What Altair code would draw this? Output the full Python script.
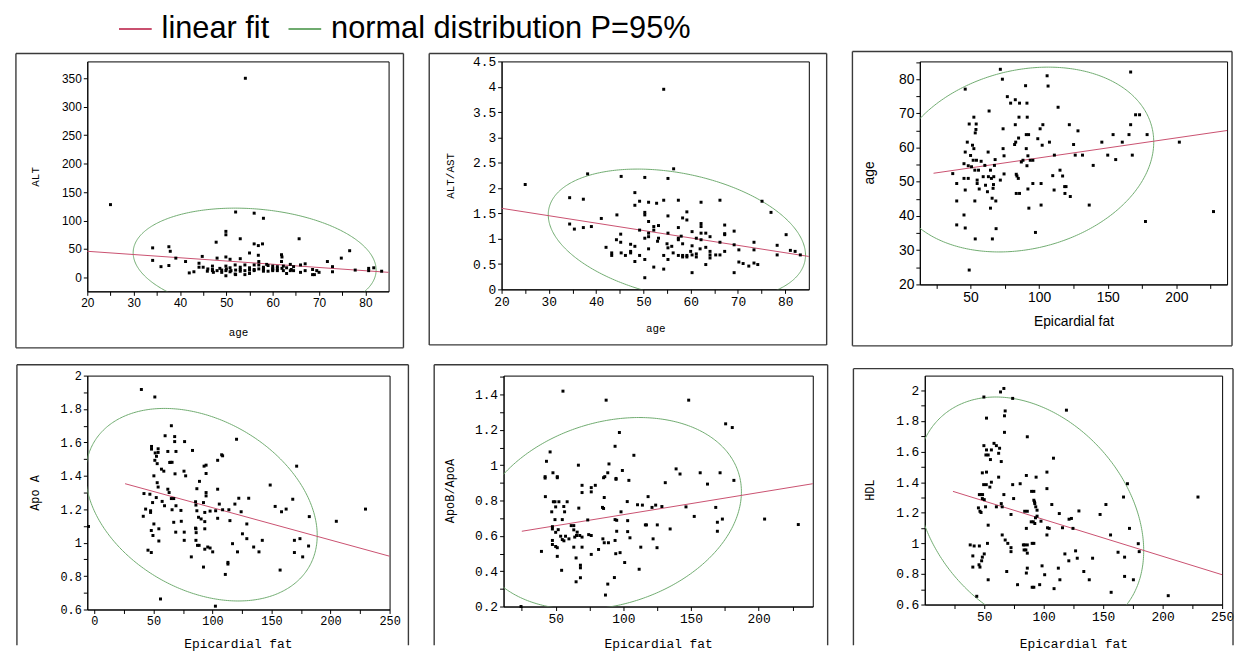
import json
import numpy as np
import pandas as pd
import altair as alt

RED = "#c9506f"
GREEN = "#6fab6f"
FIT = "linear fit"
ELL = "normal distribution P=95%"
MONO = "Liberation Mono"
SANS = "Liberation Sans"

# ---------------- data ----------------
# panel 1: age vs ALT
p1_pts = [(25, 128), (54.1, 350), (52, 115), (56, 113), (58, 104), (49.9, 81), (49.9, 75), (47.8, 62),
          (53, 68), (56, 59), (56.9, 56), (57.8, 59), (65.7, 68), (76.6, 47), (74.8, 34),
          (34.1, 52), (34.1, 30), (35.9, 19), (37.6, 54), (37.6, 21), (37.9, 46), (39.1, 34), (41.2, 28),
          (42, 8), (43, 10), (44.1, 25), (44.1, 18), (45, 18), (44.8, 37), (45.9, 11), (47, 20), (47, 12),
          (47.2, 9), (48, 34), (48, 12), (48.6, 16), (49, 9), (49.9, 36), (49.9, 20), (49.9, 12), (49.9, 3),
          (50.8, 32), (50.8, 17), (50.8, 10), (51.9, 22), (51.9, 6), (53, 33), (53, 14), (54, 22), (55, 13),
          (55, 7), (55, 43), (56, 22), (56, 12), (56.9, 39), (57, 28), (57, 22), (58, 16), (58, 13),
          (58.7, 23), (59, 11), (60, 20), (60, 16), (60, 12), (61, 19), (61, 12), (61.9, 40), (62, 36),
          (61.9, 28), (62.3, 20), (62.3, 12), (63.8, 23), (63.8, 12), (64.5, 19), (64.5, 12), (66, 22),
          (66, 9), (67, 24), (67, 12), (68.6, 14), (68.6, 5), (69.5, 12), (70, 9), (71.8, 28), (72.9, 19),
          (72.9, 10), (77.8, 13), (80.7, 12), (80.7, 16), (83.5, 11), (52, 5), (54, 5), (63, 7), (69, 5),
          (81.8, 17), (47, 14), (50, 15), (52, 13), (53, 18), (55, 17), (57, 15), (58, 11), (60, 14),
          (62, 16), (63, 17), (59, 21), (54, 12), (46, 15), (49, 13), (51, 12), (53, 11), (56, 14),
          (58, 18), (61, 15), (64, 14)]
p1_fit = [(20, 46), (85, 9)]

# panel 2: age vs ALT/AST
p2_pts = [(25.0, 2.07), (54.3, 3.95), (56.4, 2.38), (38.2, 2.28), (45.3, 2.23), (50.3, 2.21), (55.2, 2.19),
          (34.4, 1.81), (37.3, 1.78), (48.2, 1.91), (49.2, 1.74), (48.2, 1.66), (51.1, 1.72), (52.8, 1.70),
          (54.3, 1.76), (57.4, 1.76), (62.2, 1.72), (66.2, 1.76), (75.1, 1.74), (77.0, 1.52), (34.4, 1.29),
          (35.4, 1.19), (37.3, 1.22), (39.0, 1.24), (41.1, 1.40), (44.4, 1.47), (45.2, 1.09), (44.3, 0.98),
          (45.2, 0.93), (42.1, 0.83), (43.3, 0.72), (43.3, 0.67), (45.3, 0.72), (46.2, 0.67), (47.3, 0.89),
          (47.3, 0.75), (47.3, 0.72), (48.2, 0.85), (48.2, 0.55), (49.2, 0.67), (49.2, 1.17), (50.3, 1.52),
          (50.3, 1.47), (50.3, 0.59), (50.3, 0.23), (50.3, 1.01), (51.1, 1.34), (51.1, 1.11), (51.1, 1.04),
          (51.1, 0.80), (52.2, 1.24), (52.2, 1.17), (52.2, 0.44), (53.2, 1.26), (53.2, 1.01), (54.3, 0.67),
          (54.3, 0.40), (55.2, 1.45), (55.2, 1.11), (55.2, 0.82), (55.2, 0.59), (56.3, 0.72), (57.4, 1.22),
          (57.4, 1.01), (57.4, 0.98), (57.4, 0.67), (58.3, 1.41), (58.3, 0.90), (58.3, 0.67), (58.3, 0.64),
          (59.2, 1.53), (59.2, 1.37), (59.2, 0.67), (59.2, 0.64), (60.3, 1.14), (60.3, 0.86), (60.3, 0.68),
          (60.3, 0.33), (61.2, 1.01), (61.2, 0.64), (61.2, 0.70), (62.2, 1.30), (62.2, 1.24), (62.2, 1.11),
          (62.2, 0.98), (63.2, 1.11), (63.2, 0.83), (63.2, 0.49), (64.1, 1.04), (64.1, 0.75), (64.1, 0.68),
          (64.1, 0.62), (65.3, 0.68), (66.2, 0.93), (66.2, 0.68), (67.2, 1.27), (67.2, 1.10), (67.2, 1.08),
          (67.2, 0.75), (69.2, 1.15), (69.2, 0.88), (69.2, 0.33), (70.2, 0.78), (70.2, 0.54), (71.1, 0.51),
          (72.3, 0.46), (73.4, 0.93), (73.4, 0.78), (73.4, 0.52), (74.2, 0.49), (78.3, 0.87), (78.3, 0.68),
          (80.2, 1.08), (81.1, 0.77), (82.1, 0.75), (83.2, 0.68), (53, 0.95), (56, 0.85), (58, 1.05),
          (60, 0.75), (55, 0.9), (62, 0.8)]
p2_fit = [(20, 1.60), (85, 0.65)]

# panel 3: Epicardial fat vs age
p3_pts = [(71.7, 82.9), (166.7, 82.1), (105.8, 81.0), (73.2, 80.0), (46.1, 77.1), (90.1, 78.1), (106.5, 78.0),
          (76.8, 74.9), (79.2, 73.0), (82.6, 74.0), (85.7, 73.0), (91.1, 73.0), (113.8, 71.8), (63.5, 70.7),
          (170.3, 69.6), (173.2, 69.6), (52.4, 68.9), (85.3, 68.9), (91.3, 68.9), (49.0, 66.9), (54.1, 66.9),
          (73.7, 65.5), (82.6, 66.7), (100.7, 65.5), (102.7, 66.7), (122.0, 66.7), (166.7, 66.7), (53.9, 65.3),
          (53.4, 64.3), (128.3, 64.9), (153.9, 63.8), (165.5, 63.8), (178.7, 63.8), (90.6, 63.8), (92.3, 63.8),
          (85.0, 62.8), (99.0, 62.6), (47.6, 61.6), (82.9, 61.6), (107.5, 61.6), (145.7, 61.6), (160.6, 61.6),
          (202.2, 61.6), (51.4, 60.7), (82.1, 60.9), (102.2, 60.7), (125.1, 60.9), (52.4, 59.7), (73.7, 59.7),
          (90.6, 59.7), (46.1, 58.7), (62.8, 58.7), (50.0, 57.7), (74.4, 57.6), (91.8, 57.6), (111.1, 57.8),
          (126.3, 57.8), (131.6, 57.8), (150.0, 57.8), (167.9, 57.8), (51.9, 56.3), (54.3, 56.3), (57.7, 56.0),
          (67.9, 56.5), (87.0, 55.8), (88.2, 56.3), (93.5, 56.3), (95.4, 56.3), (155.8, 56.5), (45.2, 55.3),
          (48.3, 54.7), (50.7, 54.4), (60.4, 54.8), (67.4, 54.8), (91.1, 54.7), (139.4, 54.8), (53.1, 53.4),
          (55.8, 53.4), (64.5, 53.4), (115.2, 53.4), (37.0, 52.4), (74.4, 52.3), (83.3, 52.2), (83.8, 51.7),
          (109.9, 51.8), (117.1, 51.7), (59.2, 51.5), (63.0, 51.5), (66.9, 51.5), (45.2, 51.0), (48.3, 51.0),
          (65.2, 51.0), (84.8, 51.0), (71.7, 50.5), (54.8, 50.5), (39.9, 49.5), (54.8, 49.5), (95.4, 49.5),
          (101.4, 49.5), (60.9, 49.0), (66.7, 49.2), (118.6, 48.6), (119.6, 48.6), (56.3, 47.9), (66.4, 48.1),
          (91.8, 47.9), (46.1, 47.6), (110.9, 47.6), (62.3, 47.1), (83.3, 46.6), (85.7, 46.6), (118.8, 46.6),
          (122.7, 45.7), (65.7, 45.2), (39.9, 44.4), (53.1, 44.4), (68.4, 44.4), (101.4, 43.2), (136.5, 43.2),
          (64.5, 42.3), (92.5, 42.3), (227.1, 41.3), (45.2, 40.3), (177.5, 38.4), (39.9, 37.4), (46.1, 36.5),
          (68.6, 36.3), (97.3, 35.2), (53.4, 33.3), (65.9, 33.3), (49.0, 24.2)]
p3_fit = [(23, 52.5), (237, 65.0)]

# panel 4: Epicardial fat vs Apo A
p4_pts = [(39.8, 1.917), (51.2, 1.872), (65.2, 1.70), (59.9, 1.64), (68, 1.635), (68, 1.605), (76.4, 1.605),
          (83.1, 1.552), (48.4, 1.576), (48.4, 1.56), (54, 1.562), (54, 1.54), (51.5, 1.537), (52.6, 1.517),
          (51.2, 1.493), (53.2, 1.473), (62.2, 1.546), (63.8, 1.48), (64.4, 1.481), (65.8, 1.481), (56.8, 1.44),
          (58.8, 1.428), (68.3, 1.412), (69.1, 1.546), (75.9, 1.428), (77.3, 1.40), (50.4, 1.40), (53.2, 1.359),
          (54, 1.333), (62.2, 1.32), (63.3, 1.30), (42, 1.294), (47, 1.29), (52.4, 1.27), (57.4, 1.247),
          (59.4, 1.221), (65.2, 1.264), (67.2, 1.264), (65.8, 1.197), (67.2, 1.122), (69.1, 1.221), (73.3, 1.193),
          (73.6, 1.128), (76.1, 1.063), (76.1, 1.014), (41.4, 1.158), (43.4, 1.201), (47.6, 1.191), (47.6, 1.181),
          (49.3, 1.24), (50.4, 1.112), (48.2, 1.073), (49.6, 1.043), (54.6, 1.083), (54.6, 1.01), (45.4, 0.955),
          (48.2, 0.941), (56, 0.663), (68.9, 1.063), (82.1, 0.915), (85.7, 1.245), (86, 1.225), (85.7, 1.087),
          (86, 1.083), (86.2, 1.06), (86, 1.014), (87.3, 0.984), (88.7, 0.984), (86.8, 1.323), (89, 1.367),
          (86.8, 1.191), (88.2, 1.152), (90.4, 1.142), (92.9, 1.458), (94.6, 1.464), (94.6, 1.414), (94.6, 1.30),
          (94.6, 1.28), (92.4, 1.24), (93.5, 1.181), (93.5, 1.126), (93.5, 1.083), (93.5, 0.961), (92.4, 0.854),
          (96, 0.974), (98, 0.968), (100.2, 0.945), (98, 1.189), (102.7, 1.191), (104.4, 1.493), (104.4, 1.32),
          (104.4, 1.146), (105.8, 1.231), (107.8, 1.526), (108.6, 1.52), (108.6, 1.197), (102.5, 0.62),
          (110.9, 0.81), (113.1, 0.882), (113.1, 0.872), (114.8, 1.132), (117, 0.994), (113.9, 1.197),
          (119, 1.231), (120.4, 1.619), (121.2, 0.945), (122.3, 1.266), (124.3, 1.185), (125.4, 1.053),
          (129.1, 1.112), (129.1, 1.024), (130.7, 1.266), (134.9, 0.974), (139.4, 0.945), (142.2, 1.014),
          (148.9, 1.345), (153.1, 1.217), (157.3, 0.836), (158.5, 1.185), (162.4, 1.201), (168, 1.26),
          (169.4, 1.014), (169.4, 0.941), (171.3, 1.458), (174.1, 1.024), (176.4, 0.915), (181.4, 0.98),
          (182, 1.156), (204.9, 1.128), (229.6, 1.201), (-5, 1.097)]
p4_fit = [(26, 1.353), (250, 0.919)]

# panel 5: Epicardial fat vs ApoB/ApoA
p5_pts = [(55.4, 1.419), (87.3, 1.368), (148.3, 1.368), (175.6, 1.234), (180.5, 1.213), (97.1, 1.185),
          (93.9, 1.107), (107.8, 1.056), (45.9, 1.075), (43.2, 1.022), (66.8, 1.0), (89.4, 1.007), (48, 0.957),
          (51.2, 0.935), (51.2, 0.929), (42.2, 0.935), (42.2, 0.927), (86.3, 0.935), (85.4, 0.929), (88.5, 0.957),
          (94.6, 0.925), (94.6, 0.92), (99.3, 0.97), (104.1, 0.914), (131, 0.901), (139, 0.979), (141.9, 0.95),
          (156.8, 0.957), (162.2, 0.893), (171.5, 0.957), (181.7, 0.914), (42.4, 0.822), (48.3, 0.793),
          (49.5, 0.793), (52.4, 0.793), (58.5, 0.793), (56, 0.766), (56.6, 0.736), (50, 0.764), (47.1, 0.736),
          (49.5, 0.692), (54.9, 0.692), (67.1, 0.757), (69.5, 0.886), (69.5, 0.845), (76.3, 0.873), (76.3, 0.849),
          (79.3, 0.886), (84.6, 0.761), (85.4, 0.755), (85.9, 0.817), (98.3, 0.736), (102.9, 0.794), (110.5, 0.776),
          (114.1, 0.774), (118.3, 0.822), (121.2, 0.761), (123.9, 0.774), (125.1, 0.662), (128.5, 0.766),
          (146.3, 0.764), (152.4, 0.71), (168.3, 0.761), (169.5, 0.677), (169.5, 0.626), (173.2, 0.695),
          (204.4, 0.695), (229.3, 0.664), (73.7, 0.69), (93.9, 0.692), (95.1, 0.688), (95.1, 0.626), (93.9, 0.574),
          (103.2, 0.686), (103.2, 0.624), (104.9, 0.589), (116.3, 0.662), (117.1, 0.662), (122, 0.583),
          (124.9, 0.533), (134.6, 0.639), (112.9, 0.536), (101, 0.449), (111.7, 0.411), (47.6, 0.652),
          (47.6, 0.639), (50, 0.62), (51.9, 0.635), (47.6, 0.574), (47.6, 0.551), (50, 0.54), (51.2, 0.533),
          (53.7, 0.598), (54.9, 0.579), (56.1, 0.572), (57.3, 0.598), (59.8, 0.583), (61.5, 0.658), (63.4, 0.658),
          (63.4, 0.634), (64.1, 0.593), (65.9, 0.621), (65.4, 0.602), (67.8, 0.602), (69.5, 0.593), (63.4, 0.536),
          (69.5, 0.536), (74.4, 0.607), (76.3, 0.602), (76.3, 0.495), (81.7, 0.523), (84.9, 0.583), (85.9, 0.561),
          (89, 0.561), (51.2, 0.484), (54.4, 0.405), (65.1, 0.475), (68.3, 0.434), (68.3, 0.419), (68.3, 0.363),
          (65.1, 0.34), (39.5, 0.512), (86.8, 0.265), (88.5, 0.327), (93.4, 0.364), (94.4, 0.499), (97.6, 0.505),
          (24.4, 0.2)]
p5_fit = [(25, 0.626), (240, 0.895)]

# panel 6: Epicardial fat vs HDL
p6_pts = [(66.5, 2.013), (63.7, 1.99), (49.7, 1.957), (73.9, 1.948), (67.6, 1.866), (67, 1.834), (51.9, 1.819),
          (67, 1.726), (119.1, 1.871), (86.2, 1.697), (108.2, 1.557), (49.7, 1.639), (51.9, 1.611), (56, 1.611),
          (58.2, 1.654), (60.2, 1.639), (62.9, 1.622), (62.1, 1.589), (51.4, 1.578), (53.3, 1.578), (55.2, 1.548),
          (64.3, 1.535), (48.4, 1.461), (51.9, 1.466), (62.1, 1.433), (49.5, 1.384), (51.7, 1.384), (56, 1.40),
          (54.7, 1.368), (73.9, 1.384), (80.2, 1.39), (85.4, 1.444), (93.6, 1.433), (102.7, 1.466), (102.7, 1.358),
          (89.8, 1.34), (91.7, 1.34), (45.9, 1.319), (47.3, 1.319), (48.6, 1.319), (48.4, 1.293), (50, 1.286),
          (66.5, 1.319), (74.7, 1.293), (91.7, 1.282), (92.3, 1.271), (92.5, 1.26), (45.1, 1.232), (46.4, 1.21),
          (47.3, 1.202), (60.2, 1.239), (64.3, 1.26), (65.1, 1.239), (51.1, 1.239), (72.5, 1.189), (84, 1.21),
          (86.2, 1.21), (93.3, 1.239), (94.4, 1.217), (106.8, 1.254), (89.5, 1.141), (91.2, 1.141), (92.5, 1.13),
          (94.4, 1.178), (93.1, 1.167), (97.7, 1.145), (85.4, 1.098), (103.2, 1.102), (104.6, 1.098),
          (102.7, 1.055), (113.1, 1.195), (115.8, 1.102), (121.3, 1.158), (123.3, 1.163), (124.6, 1.098),
          (129.6, 1.212), (147.4, 1.189), (152.3, 1.254), (167.1, 1.303), (170.4, 1.39), (172.1, 1.098),
          (156.2, 1.055), (162.5, 0.942), (168, 0.91), (179.5, 0.998), (180.3, 0.946), (229.7, 1.303),
          (53.3, 1.119), (65.1, 1.055), (67.6, 1.022), (52.7, 1.0), (38.2, 0.99), (41.5, 0.983), (45.9, 0.983),
          (40.4, 0.918), (40.4, 0.845), (45.6, 0.86), (46.4, 0.845), (47.8, 0.886), (48.4, 0.91), (50, 0.931),
          (53.3, 0.762), (43.7, 0.654), (68.9, 0.816), (69.8, 1.0), (72.5, 0.972), (72.5, 0.946), (78, 0.73),
          (82.9, 0.99), (84, 0.99), (86.2, 0.99), (83.5, 0.957), (85, 0.957), (86.2, 0.936), (85.4, 0.806),
          (86.2, 0.838), (90.3, 1.0), (91.7, 1.0), (90.3, 0.713), (91.7, 0.713), (96.6, 0.73), (98.6, 0.853),
          (100.8, 0.795), (108.7, 0.704), (112.3, 0.838), (113.6, 0.762), (117.8, 0.931), (121.1, 0.886),
          (126.8, 0.951), (128.2, 0.903), (133.7, 0.816), (138.3, 0.762), (141.1, 0.903), (156.7, 0.68),
          (168, 0.784), (175.4, 0.762), (204.7, 0.658)]
p6_fit = [(23.7, 1.34), (250, 0.795)]

# axis ticks / labels
p1_xticks = [20, 25, 30, 35, 40, 45, 50, 55, 60, 65, 70, 75, 80]
p1_xlabels = [20, 30, 40, 50, 60, 70, 80]
p1_yticks = [0, 50, 100, 150, 200, 250, 300, 350]
p2_yticks = [0, 0.5, 1, 1.5, 2, 2.5, 3, 3.5, 4, 4.5]
p3_xticks = [25, 50, 75, 100, 125, 150, 175, 200, 225]
p3_xlabels = [50, 100, 150, 200]
p3_yticks = [20, 25, 30, 35, 40, 45, 50, 55, 60, 65, 70, 75, 80, 85]
p3_ylabels = [20, 30, 40, 50, 60, 70, 80]
p4_xticks = [0, 25, 50, 75, 100, 125, 150, 175, 200, 225, 250]
p4_xlabels = [0, 50, 100, 150, 200, 250]
p4_yticks = [0.6, 0.7, 0.8, 0.9, 1, 1.1, 1.2, 1.3, 1.4, 1.5, 1.6, 1.7, 1.8, 1.9, 2]
p4_ylabels = [0.6, 0.8, 1, 1.2, 1.4, 1.6, 1.8, 2]
p5_xticks = [25, 50, 75, 100, 125, 150, 175, 200, 225]
p5_xlabels = [50, 100, 150, 200]
p5_yticks = [0.2, 0.3, 0.4, 0.5, 0.6, 0.7, 0.8, 0.9, 1, 1.1, 1.2, 1.3, 1.4, 1.5]
p5_ylabels = [0.2, 0.4, 0.6, 0.8, 1, 1.2, 1.4]
p6_xticks = [25, 50, 75, 100, 125, 150, 175, 200, 225, 250]
p6_xlabels = [50, 100, 150, 200, 250]
p6_yticks = [0.6, 0.7, 0.8, 0.9, 1, 1.1, 1.2, 1.3, 1.4, 1.5, 1.6, 1.7, 1.8, 1.9, 2]
p6_ylabels = [0.6, 0.8, 1, 1.2, 1.4, 1.6, 1.8, 2]

CHI2_95 = 5.991  # 2-dof chi-square quantile for the 95% normal ellipse


def ellipse_df(pts):
    a = np.array(pts, dtype=float)
    m = a.mean(axis=0)
    L = np.linalg.cholesky(np.cov(a.T))
    t = np.linspace(0, 2 * np.pi, 361)
    e = m[:, None] + np.sqrt(CHI2_95) * (L @ np.vstack([np.cos(t), np.sin(t)]))
    return pd.DataFrame({"x": e[0], "y": e[1], "o": np.arange(t.size), "s": ELL})


def lab_expr(vals):
    return "indexof(%s, datum.value) >= 0 ? datum.label : ''" % json.dumps(vals)


def make_axis(orient, ticks, labels, fmt, title, tfont, tsize, lfont, lsize, tpos, along):
    kw = dict(values=ticks, labelExpr=lab_expr(labels), format=fmt, title=title,
              titleFont=tfont, titleFontSize=tsize, titleFontWeight="normal", titleColor="black",
              labelFont=lfont, labelFontSize=lsize, labelColor="black", labelFlush=False,
              labelOverlap=False, tickSize=4, tickColor="black", domainColor="black",
              grid=False, labelPadding=2, titleBaseline="middle")
    if orient == "x":
        kw.update(titleY=tpos, titleX=along)
    else:
        kw.update(titleX=tpos, titleY=along)
    return alt.Axis(**kw)


def panel(pts, fit, xdom, ydom, W, H, frame, closed, xax, yax):
    L_, R_, T_, B_ = frame
    X = alt.X("x:Q", scale=alt.Scale(domain=xdom, nice=False, zero=False), axis=xax)
    Y = alt.Y("y:Q", scale=alt.Scale(domain=ydom, nice=False, zero=False), axis=yax)
    C = alt.Color("s:N", scale=alt.Scale(domain=[FIT, ELL], range=[RED, GREEN]),
                  legend=alt.Legend(title=None))
    one = pd.DataFrame({"k": [0]})
    rule = dict(color="#3a3a3a", strokeWidth=1.4)
    layers = [
        alt.Chart(one).mark_rule(**rule).encode(x=alt.value(-L_), x2=alt.value(W + R_), y=alt.value(-T_)),
        alt.Chart(one).mark_rule(**rule).encode(x=alt.value(-L_), y=alt.value(-T_), y2=alt.value(H + B_)),
        alt.Chart(one).mark_rule(**rule).encode(x=alt.value(W + R_), y=alt.value(-T_), y2=alt.value(H + B_)),
    ]
    if closed:
        layers.append(alt.Chart(one).mark_rule(**rule).encode(
            x=alt.value(-L_), x2=alt.value(W + R_), y=alt.value(H + B_)))
    ell = alt.Chart(ellipse_df(pts)).mark_line(strokeWidth=1, clip=True).encode(
        x=X, y=Y, color=C, order="o:Q")
    fdf = pd.DataFrame({"x": [p[0] for p in fit], "y": [p[1] for p in fit], "s": FIT})
    fl = alt.Chart(fdf).mark_line(strokeWidth=1).encode(x=X, y=Y, color=C)
    pdf = pd.DataFrame({"x": [p[0] for p in pts], "y": [p[1] for p in pts]})
    pt = alt.Chart(pdf).mark_square(size=9, color="black", opacity=1).encode(x=X, y=Y)
    return alt.layer(*layers, ell, fl, pt).properties(width=W, height=H)


c1 = panel(p1_pts, p1_fit, [20, 85], [-24.4, 379.6], 304, 232, (72, 15, 8, 57), True,
           make_axis("x", p1_xticks, p1_xlabels, "d", "age", MONO, 11, SANS, 12, 42, 152),
           make_axis("y", p1_yticks, p1_yticks, "d", "ALT", MONO, 11, SANS, 12, -52, 116))
c2 = panel(p2_pts, p2_fit, [20, 85], [0, 4.5], 310, 230, (73, 18, 8, 56), True,
           make_axis("x", p1_xticks, p1_xlabels, "d", "age", MONO, 11, MONO, 13, 40, 155),
           make_axis("y", p2_yticks, p2_yticks, ".1~f", "ALT/AST", MONO, 11, MONO, 13, -51, 115))
c3 = panel(p3_pts, p3_fit, [13, 237], [20, 85.2], 310, 225, (68, 5, 10, 62), True,
           make_axis("x", p3_xticks, p3_xlabels, "d", "Epicardial fat", SANS, 14, SANS, 14, 37, 155),
           make_axis("y", p3_yticks, p3_ylabels, "d", "age", SANS, 14, SANS, 14, -51, 112))
c4 = panel(p4_pts, p4_fit, [-6, 250], [0.6, 2.0], 305, 236, (71, 19, 11, 36), False,
           make_axis("x", p4_xticks, p4_xlabels, "d", "Epicardial fat", MONO, 13, MONO, 12, 34, 152),
           make_axis("y", p4_yticks, p4_ylabels, ".1~f", "Apo A", MONO, 12, MONO, 12, -53, 118))
c5 = panel(p5_pts, p5_fit, [11.5, 240], [0.2, 1.507], 312, 233, (70, 15, 11, 39), False,
           make_axis("x", p5_xticks, p5_xlabels, "d", "Epicardial fat", MONO, 13, MONO, 13, 37, 156),
           make_axis("y", p5_yticks, p5_ylabels, ".1~f", "ApoB/ApoA", MONO, 12, MONO, 13, -54, 116))
c6 = panel(p6_pts, p6_fit, [0, 250], [0.6, 2.097], 300, 231, (72, 11, 7, 41), False,
           make_axis("x", p6_xticks, p6_xlabels, "d", "Epicardial fat", MONO, 13, MONO, 13, 39, 150),
           make_axis("y", p6_yticks, p6_ylabels, ".1~f", "HDL", MONO, 12, MONO, 13, -56, 115))

row1 = alt.hconcat(c1, c2, c3, spacing=22)
row2 = alt.hconcat(c4, c5, c6, spacing=22)

chart = (
    alt.vconcat(row1, row2, spacing=13)
    .properties(padding={"left": 6, "top": 0, "right": 0, "bottom": 0}, background="white")
    .configure_view(stroke="black", strokeWidth=1)
    .configure_legend(orient="none", legendX=31, legendY=-50.5, direction="horizontal",
                      symbolType="stroke", symbolSize=1089, symbolStrokeWidth=2,
                      labelFont=SANS, labelFontSize=31, labelColor="black", labelOffset=9,
                      columnPadding=15, padding=0, labelLimit=800)
)

chart.save("out.html", embed_options={"renderer": "svg", "actions": False})
